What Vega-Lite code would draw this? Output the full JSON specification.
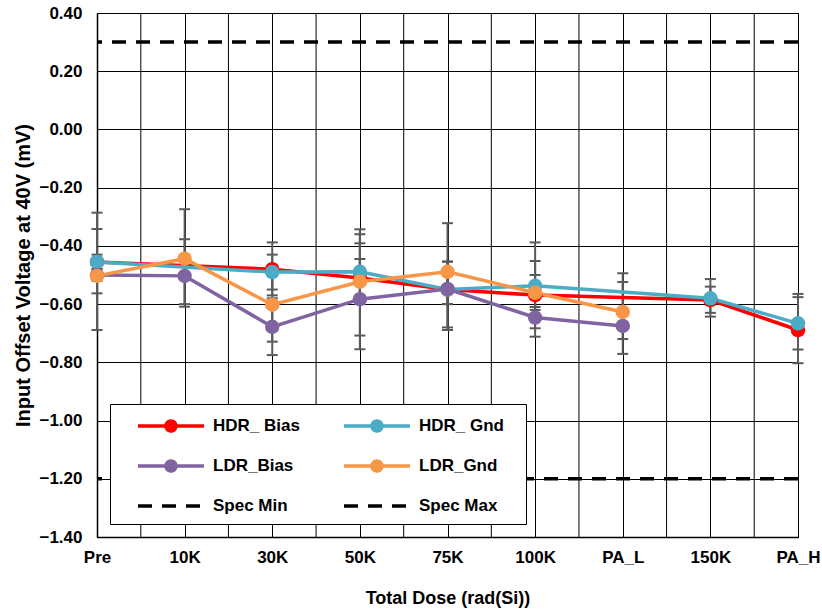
{
  "$schema": "https://vega.github.io/schema/vega-lite/v6.json",
  "width": 701,
  "height": 524,
  "autosize": "none",
  "padding": {"left": 97, "top": 13, "right": 24, "bottom": 75},
  "background": "white",
  "config": {
    "font": "Liberation Sans",
    "view": {"stroke": "black", "strokeWidth": 1},
    "axis": {
      "labelFont": "Liberation Sans", "labelFontWeight": "bold", "labelFontSize": 17, "labelColor": "black",
      "titleFont": "Liberation Sans", "titleFontWeight": "bold", "titleFontSize": 18, "titleColor": "black",
      "gridColor": "black", "gridOpacity": 1, "gridWidth": 1,
      "domainColor": "black", "domainWidth": 1.5, "ticks": false, "tickSize": 0
    },
    "legend": {
      "orient": "bottom-left", "offset": 13, "columns": 2, "direction": "horizontal", "padding": 10,
      "strokeColor": "black", "strokeWidth": 1, "fillColor": "white",
      "symbolSize": 400, "symbolStrokeWidth": 3.5,
      "labelFont": "Liberation Sans", "labelFontSize": 17, "labelFontWeight": "bold", "labelColor": "black",
      "labelOffset": 69, "rowPadding": 16, "columnPadding": 14, "gridAlign": "all"
    }
  },
  "datasets": {
    "main": [
      {"series": "HDR_ Bias", "dose": "Pre", "v": -0.455, "hi": -0.43, "lo": -0.48},
      {"series": "HDR_ Bias", "dose": "30K", "v": -0.48, "hi": -0.388, "lo": -0.57},
      {"series": "HDR_ Bias", "dose": "50K", "v": -0.51, "hi": -0.445, "lo": -0.575},
      {"series": "HDR_ Bias", "dose": "75K", "v": -0.55, "hi": -0.454, "lo": -0.6},
      {"series": "HDR_ Bias", "dose": "100K", "v": -0.569, "hi": -0.5, "lo": -0.64},
      {"series": "HDR_ Bias", "dose": "150K", "v": -0.586, "hi": -0.54, "lo": -0.63},
      {"series": "HDR_ Bias", "dose": "PA_H", "v": -0.689, "hi": -0.565, "lo": -0.803},
      {"series": "HDR_ Gnd", "dose": "Pre", "v": -0.455, "hi": -0.342, "lo": -0.563},
      {"series": "HDR_ Gnd", "dose": "30K", "v": -0.49, "hi": -0.43, "lo": -0.55},
      {"series": "HDR_ Gnd", "dose": "50K", "v": -0.489, "hi": -0.36, "lo": -0.6},
      {"series": "HDR_ Gnd", "dose": "75K", "v": -0.55, "hi": -0.5, "lo": -0.6},
      {"series": "HDR_ Gnd", "dose": "100K", "v": -0.537, "hi": -0.452, "lo": -0.62},
      {"series": "HDR_ Gnd", "dose": "150K", "v": -0.58, "hi": -0.514, "lo": -0.643},
      {"series": "HDR_ Gnd", "dose": "PA_H", "v": -0.666, "hi": -0.576, "lo": -0.756},
      {"series": "LDR_Bias", "dose": "Pre", "v": -0.5, "hi": -0.48, "lo": -0.52},
      {"series": "LDR_Bias", "dose": "10K", "v": -0.503, "hi": -0.377, "lo": -0.6},
      {"series": "LDR_Bias", "dose": "30K", "v": -0.678, "hi": -0.58, "lo": -0.775},
      {"series": "LDR_Bias", "dose": "50K", "v": -0.583, "hi": -0.391, "lo": -0.755},
      {"series": "LDR_Bias", "dose": "75K", "v": -0.548, "hi": -0.454, "lo": -0.689},
      {"series": "LDR_Bias", "dose": "100K", "v": -0.646, "hi": -0.61, "lo": -0.683},
      {"series": "LDR_Bias", "dose": "PA_L", "v": -0.675, "hi": -0.524, "lo": -0.771},
      {"series": "LDR_Gnd", "dose": "Pre", "v": -0.503, "hi": -0.286, "lo": -0.689},
      {"series": "LDR_Gnd", "dose": "10K", "v": -0.444, "hi": -0.274, "lo": -0.609},
      {"series": "LDR_Gnd", "dose": "30K", "v": -0.602, "hi": -0.475, "lo": -0.729},
      {"series": "LDR_Gnd", "dose": "50K", "v": -0.523, "hi": -0.343, "lo": -0.708},
      {"series": "LDR_Gnd", "dose": "75K", "v": -0.489, "hi": -0.322, "lo": -0.68},
      {"series": "LDR_Gnd", "dose": "100K", "v": -0.561, "hi": -0.388, "lo": -0.712},
      {"series": "LDR_Gnd", "dose": "PA_L", "v": -0.627, "hi": -0.494, "lo": -0.72}
    ],
    "spec": [
      {"series": "Spec Min", "v": -1.2},
      {"series": "Spec Max", "v": 0.3}
    ],
    "mid": [
      {"dose": "Pre"}, {"dose": "10K"}, {"dose": "30K"}, {"dose": "50K"},
      {"dose": "75K"}, {"dose": "100K"}, {"dose": "PA_L"}, {"dose": "150K"}
    ]
  },
  "layer": [
    {
      "data": {"name": "mid"},
      "mark": {"type": "rule", "color": "black", "strokeWidth": 1},
      "encoding": {
        "x": {
          "field": "dose", "type": "nominal",
          "scale": {"type": "band", "domain": ["Pre", "10K", "30K", "50K", "75K", "100K", "PA_L", "150K"], "paddingInner": 0, "paddingOuter": 0},
          "axis": null
        }
      }
    },
    {
      "layer": [
        {
          "data": {"name": "spec"},
          "mark": {"type": "rule", "strokeWidth": 3.5},
          "encoding": {
            "y": {"field": "v", "type": "quantitative", "title": "Input Offset Voltage at 40V  (mV)"},
            "color": {"field": "series", "type": "nominal"},
            "strokeDash": {
              "field": "series", "type": "nominal",
              "scale": {
                "domain": ["HDR_ Bias", "HDR_ Gnd", "LDR_Bias", "LDR_Gnd", "Spec Min", "Spec Max"],
                "range": [[1, 0], [1, 0], [1, 0], [1, 0], [14, 10], [14, 10]]
              },
              "legend": null
            }
          }
        },
        {
          "data": {"name": "main"},
          "mark": {"type": "rule", "color": "#5a5a5a", "strokeWidth": 2},
          "encoding": {
            "x": {"field": "dose", "type": "ordinal", "title": "Total Dose (rad(Si))"},
            "y": {"field": "hi", "type": "quantitative", "title": "Input Offset Voltage at 40V  (mV)"},
            "y2": {"field": "lo"}
          }
        },
        {
          "data": {"name": "main"},
          "mark": {"type": "tick", "color": "#5a5a5a", "thickness": 2, "size": 11, "opacity": 1},
          "encoding": {
            "x": {"field": "dose", "type": "ordinal", "title": "Total Dose (rad(Si))"},
            "y": {"field": "hi", "type": "quantitative", "title": "Input Offset Voltage at 40V  (mV)"}
          }
        },
        {
          "data": {"name": "main"},
          "mark": {"type": "tick", "color": "#5a5a5a", "thickness": 2, "size": 11, "opacity": 1},
          "encoding": {
            "x": {"field": "dose", "type": "ordinal", "title": "Total Dose (rad(Si))"},
            "y": {"field": "lo", "type": "quantitative", "title": "Input Offset Voltage at 40V  (mV)"}
          }
        },
        {
          "data": {"name": "main"},
          "mark": {"type": "line", "strokeWidth": 3.5},
          "encoding": {
            "x": {
              "field": "dose", "type": "ordinal", "title": "Total Dose (rad(Si))",
              "scale": {"type": "point", "padding": 0, "domain": ["Pre", "10K", "30K", "50K", "75K", "100K", "PA_L", "150K", "PA_H"]},
              "axis": {"grid": true, "labelAngle": 0, "labelAlign": "center", "labelPadding": 20, "labelBaseline": "middle", "titleY": 61, "titleBaseline": "middle"}
            },
            "y": {
              "field": "v", "type": "quantitative", "title": "Input Offset Voltage at 40V  (mV)",
              "scale": {"domain": [-1.4, 0.4], "nice": false, "zero": false},
              "axis": {
                "values": [-1.4, -1.2, -1.0, -0.8, -0.6, -0.4, -0.2, 0, 0.2, 0.4],
                "format": ".2f", "grid": true, "labelPadding": 15, "titleFontSize": 20,
                "titleX": -74, "titleY": 262, "titleAngle": -90, "titleAlign": "center", "titleBaseline": "middle"
              }
            },
            "color": {
              "field": "series", "type": "nominal",
              "scale": {
                "domain": ["HDR_ Bias", "HDR_ Gnd", "LDR_Bias", "LDR_Gnd", "Spec Min", "Spec Max"],
                "range": ["#FF0000", "#4BACC6", "#8064A2", "#F79646", "#000000", "#000000"]
              },
              "legend": {
                "title": null,
                "labelExpr": "datum.label + '\u2800'",
                "symbolType": "M0.6,0H7.2M3.4,0A0.5,0.5 0 1,0 4.4,0A0.5,0.5 0 1,0 3.4,0Z",
                "encode": {
                  "symbols": {
                    "update": {
                      "shape": {"signal": "indexof(datum.value, 'Spec') === 0 ? 'M0.6,0H7.2' : 'M0.6,0H7.2M3.4,0A0.5,0.5 0 1,0 4.4,0A0.5,0.5 0 1,0 3.4,0Z'"},
                      "fill": {"signal": "indexof(datum.value, 'Spec') === 0 ? 'transparent' : scale('color', datum.value)"},
                      "stroke": {"signal": "scale('color', datum.value)"},
                      "strokeDash": {"signal": "indexof(datum.value, 'Spec') === 0 ? [14, 10] : [1, 0]"},
                      "strokeWidth": {"value": 3.5},
                      "opacity": {"value": 1},
                      "size": {"value": 400}
                    }
                  }
                }
              }
            },
            "order": {"value": null}
          }
        },
        {
          "data": {"name": "main"},
          "mark": {"type": "point", "filled": true, "size": 210, "opacity": 1, "shape": "circle"},
          "encoding": {
            "x": {"field": "dose", "type": "ordinal", "title": "Total Dose (rad(Si))"},
            "y": {"field": "v", "type": "quantitative", "title": "Input Offset Voltage at 40V  (mV)"},
            "color": {"field": "series", "type": "nominal"}
          }
        }
      ]
    }
  ],
  "resolve": {"scale": {"x": "independent"}}
}
